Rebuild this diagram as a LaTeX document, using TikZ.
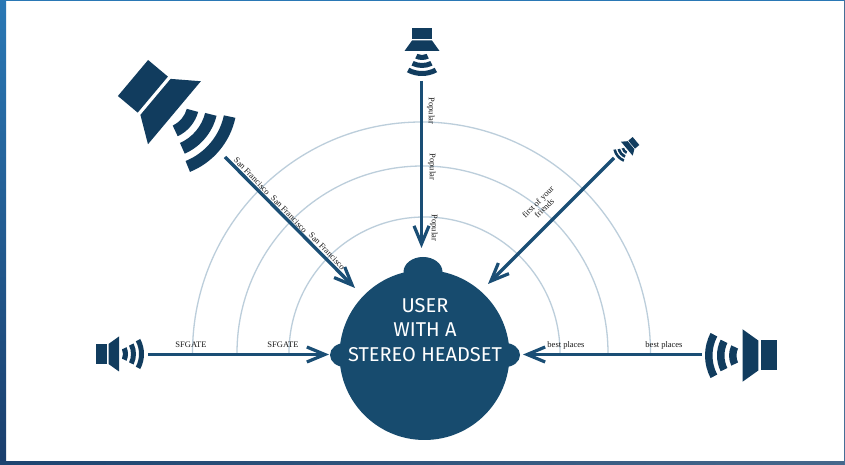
\documentclass[tikz,border=0pt]{standalone}
\usepackage{fontspec}
\setmainfont{Liberation Serif}
\newfontfamily\headfont{Fira Sans}
\usetikzlibrary{arrows.meta,shapes.geometric}
\definecolor{spk}{HTML}{113C5E}
\definecolor{arw}{HTML}{1A4E75}
\definecolor{headc}{HTML}{174B6E}
\definecolor{ring}{HTML}{BCCEDB}
\definecolor{frameA}{HTML}{2A78B5}
\definecolor{frameB}{HTML}{1A3E6C}
\definecolor{frameC}{HTML}{1C4470}
\definecolor{frameD}{HTML}{46688C}
\definecolor{frameE}{HTML}{466E96}
\tikzset{
  ringline/.style={draw=ring,line width=1.3pt},
  conn/.style={draw=arw,line width=3.4pt,-{Straight Barb[length=18pt,width=15pt,line width=3.2pt]}},
  lab/.style={font=\fontsize{8.5}{9}\selectfont,text=black!90,inner sep=0pt,align=center},
  headtxt/.style={font=\headfont\fontsize{20}{24.5}\selectfont,text=white,inner sep=0pt,align=center},
}
\newcommand{\speakericon}[4]{%
  \begin{scope}[shift={(#1,#2)},rotate=#3,scale=#4]
    \fill[spk] (0,-10) -- (11,-10) -- (11,10) -- (0,10) -- cycle;
    \fill[spk] (12.5,-10) -- (12.5,10) -- (23,17.5) -- (23,-17.5) -- cycle;
    \fill[spk] (16,0) ++(-25:16) arc[start angle=-25,end angle=25,radius=16]
       -- ++(205:5) arc[start angle=25,end angle=-25,radius=11] -- cycle;
    \fill[spk] (16,0) ++(-26:24) arc[start angle=-26,end angle=26,radius=24]
       -- ++(206:5) arc[start angle=26,end angle=-26,radius=19] -- cycle;
    \fill[spk] (16,0) ++(-28:32) arc[start angle=-28,end angle=28,radius=32]
       -- ++(208:5) arc[start angle=28,end angle=-28,radius=27] -- cycle;
  \end{scope}}
\begin{document}
\begin{tikzpicture}[x=1pt,y=1pt]
\useasboundingbox (0,0) rectangle (845,465);
\fill[white] (0,0) rectangle (845,465);
% frame
\shade[top color=frameA,bottom color=frameB] (0,0) rectangle (6,465);
\fill[frameA] (0,464) rectangle (845,465);
\shade[left color=frameC,right color=frameD] (0,0) rectangle (845,3);
\fill[frameE] (844,0) rectangle (845,465);
% rings
\draw[ringline] (192.5,112) arc[start angle=180,end angle=0,x radius=229,y radius=231];
\draw[ringline] (237,112) arc[start angle=180,end angle=0,x radius=185.5,y radius=187];
\draw[ringline] (289,112) arc[start angle=180,end angle=0,x radius=135.5,y radius=136];
% speakers
\speakericon{133}{387}{-40}{2.35}
\speakericon{422}{437}{-90}{1}
\speakericon{636}{324}{-140}{0.52}
\speakericon{96}{111}{0}{1}
\speakericon{777}{109.5}{180}{1.5}
% head
\node[ellipse,fill=headc,minimum width=39,minimum height=30,inner sep=0pt] (earT) at (423,193) {};
\node[ellipse,fill=headc,minimum width=30,minimum height=24,inner sep=0pt] (earL) at (345,110) {};
\node[ellipse,fill=headc,minimum width=30,minimum height=24,inner sep=0pt] (earR) at (505,110) {};
\node[circle,fill=headc,minimum size=170,inner sep=0pt] (head) at (424.5,110) {};
\node[headtxt] (htxt) at (425,135) {USER\\WITH A\\STEREO HEADSET};
% connector ends
\coordinate (sL) at (148,110.5);
\coordinate (tL) at (329,110.5);
\coordinate (sR) at (702,110.5);
\coordinate (tR) at (523,110.5);
\coordinate (sT) at (421.5,384);
\coordinate (tT) at (421.5,217);
\coordinate (sTL) at (225,308);
\coordinate (tTL) at (355,177);
\coordinate (sTR) at (614,307);
\coordinate (tTR) at (488,181);
\draw[conn] (sL) -- (tL);
\draw[conn] (sR) -- (tR);
\draw[conn] (sT) -- (tT);
\draw[conn] (sTL) -- (tTL);
\draw[conn] (sTR) -- (tTR);
% labels
\node[lab] (l1) at (191,120) {SFGATE};
\node[lab] (l2) at (283,120) {SFGATE};
\node[lab] (l3) at (566,120) {best places};
\node[lab] (l4) at (664,120) {best places};
\node[lab,rotate=-90] (l5) at (431,354) {Popular};
\node[lab,rotate=-90] (l6) at (432,298) {Popular};
\node[lab,rotate=-90] (l7) at (434,237) {Popular};
\node[lab,rotate=-46] (l8) at (252,289) {San Francisco};
\node[lab,rotate=-46] (l9) at (289,251) {San Francisco};
\node[lab,rotate=-46] (l10) at (327,214) {San Francisco};
\node[lab,rotate=45] (l11) at (541,260) {first of your\\friends};
\end{tikzpicture}
\end{document}
